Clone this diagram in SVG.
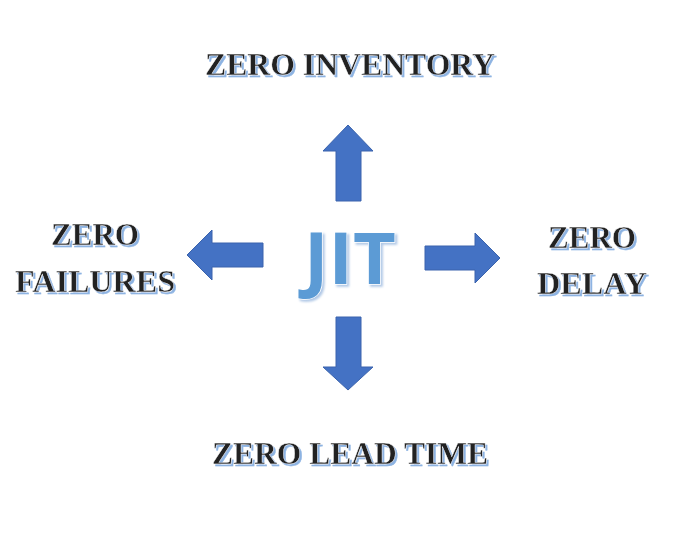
<svg xmlns="http://www.w3.org/2000/svg" width="700" height="541" viewBox="0 0 700 541">
<defs>
<filter id="sh" x="-5%" y="-20%" width="110%" height="140%"><feDropShadow dx="2" dy="2" stdDeviation="0.6" flood-color="#8db3e2" flood-opacity="1"/></filter>
<filter id="sh2" x="-5%" y="-20%" width="110%" height="140%"><feDropShadow dx="2" dy="2" stdDeviation="0.8" flood-color="#b0c8e6" flood-opacity="1"/></filter>
</defs>
<style>
.t{font-family:"Liberation Serif",serif;font-weight:bold;font-size:31px;fill:#222;stroke:#fff;stroke-width:0.4;filter:url(#sh);text-anchor:middle}
.a{fill:#4472c4;stroke:#3a63ad;stroke-width:1}
</style>
<rect width="700" height="541" fill="#fff"/>
<g id="jit"><text x="350" y="284" font-family="'Open Sans','Noto Sans',sans-serif" font-weight="bold" font-size="72" fill="#5b9bd5" stroke="#fff" stroke-width="1.5" paint-order="stroke" filter="url(#sh2)" text-anchor="middle" textLength="92" lengthAdjust="spacingAndGlyphs">JIT</text></g>
<g id="connectors">
<path class="a" d="M348,125 L373,151 L361,151 L361,201 L336,201 L336,151 L323,151 Z"/>
<path class="a" d="M348,390 L373,367 L361,367 L361,317 L336,317 L336,367 L323,367 Z"/>
<path class="a" d="M187,255 L212,230 L212,243 L263,243 L263,267 L212,267 L212,280 Z"/>
<path class="a" d="M500,258 L475,233 L475,246 L425,246 L425,270 L475,270 L475,283 Z"/>
</g>
<g id="top"><text class="t" x="350" y="75" textLength="290" lengthAdjust="spacingAndGlyphs">ZERO INVENTORY</text></g>
<g id="left"><text class="t" x="95" y="245" textLength="88" lengthAdjust="spacingAndGlyphs">ZERO</text><text class="t" x="95" y="292" textLength="160" lengthAdjust="spacingAndGlyphs">FAILURES</text></g>
<g id="right"><text class="t" x="592" y="248" textLength="88" lengthAdjust="spacingAndGlyphs">ZERO</text><text class="t" x="592" y="294" textLength="110" lengthAdjust="spacingAndGlyphs">DELAY</text></g>
<g id="bottom"><text class="t" x="350" y="464" textLength="276" lengthAdjust="spacingAndGlyphs">ZERO LEAD TIME</text></g>
</svg>
